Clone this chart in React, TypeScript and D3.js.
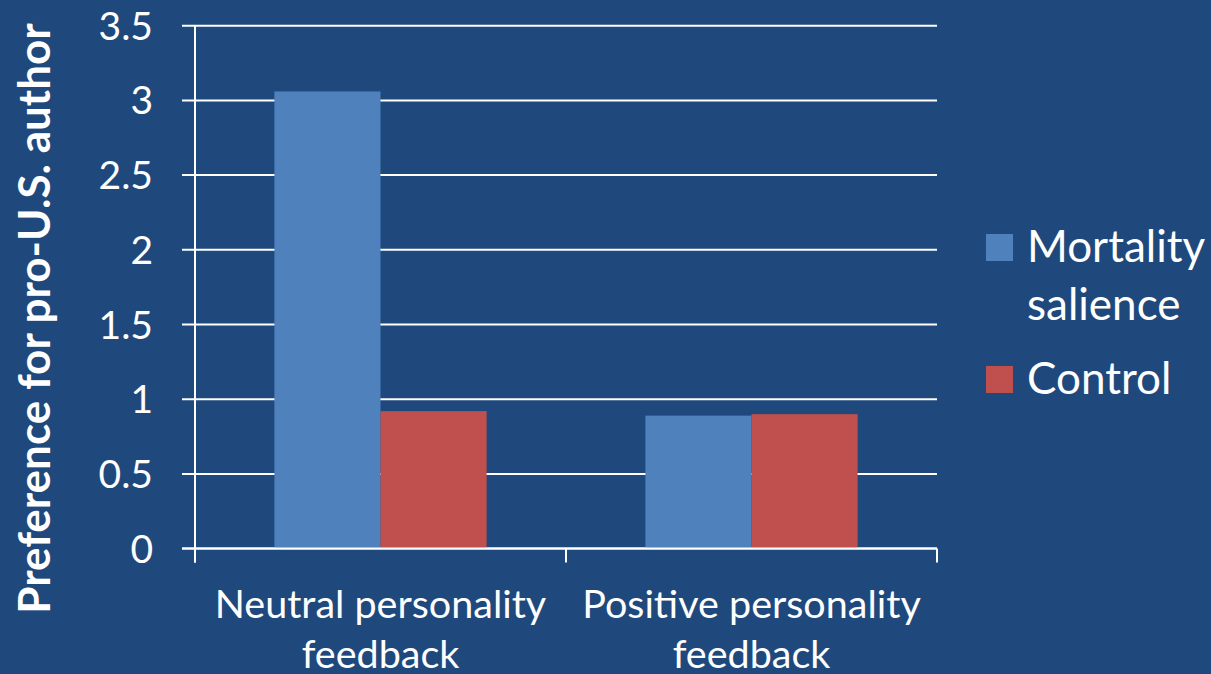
import React, { useEffect, useRef } from 'react';
import * as d3 from 'd3';

const categories = ['Neutral personality feedback', 'Positive personality feedback'];
const categoryLines = [
  ['Neutral personality', 'feedback'],
  ['Positive personality', 'feedback'],
];
const seriesNames = ['Mortality salience', 'Control'];
const mortality = [3.06, 0.89];
const control = [0.92, 0.9];
const yTicks = [0, 0.5, 1, 1.5, 2, 2.5, 3, 3.5];
const yTickLabels = ['0', '0.5', '1', '1.5', '2', '2.5', '3', '3.5'];

const BG = '#1F497D';
const COLORS = ['#4F81BD', '#C0504D'];
const FONT = 'Lato, "Open Sans", sans-serif';

const App: React.FC = () => {
  const ref = useRef<SVGSVGElement | null>(null);

  useEffect(() => {
    document.body.style.margin = '0';
    const svg = d3.select(ref.current);
    svg.selectAll('*').remove();

    const W = 1211;
    const H = 674;
    const left = 195;
    const right = 937;
    const top = 25.7;
    const bottom = 548.6;

    svg.append('rect').attr('width', W).attr('height', H).attr('fill', BG);

    const x = d3.scaleBand().domain(categories).range([left, right]).padding(0);
    const groupWidth = x.bandwidth() * 0.572;
    const inner = d3
      .scaleBand()
      .domain(seriesNames)
      .range([0, groupWidth])
      .padding(0);
    const y = d3.scaleLinear().domain([0, 3.5]).range([bottom, top]);

    // gridlines + y ticks
    svg
      .append('g')
      .selectAll('line')
      .data(yTicks)
      .enter()
      .append('line')
      .attr('x1', left - 13)
      .attr('x2', right)
      .attr('y1', (d) => y(d))
      .attr('y2', (d) => y(d))
      .attr('stroke', '#ffffff')
      .attr('stroke-width', 2);

    // bars
    const table = categories.map((c, i) => ({ c, vals: [mortality[i], control[i]] }));
    const groups = svg
      .selectAll('.grp')
      .data(table)
      .enter()
      .append('g')
      .attr('transform', (d) => `translate(${x(d.c)! + (x.bandwidth() - groupWidth) / 2},0)`);
    groups
      .selectAll('rect')
      .data((d) => d.vals.map((v, i) => ({ v, s: seriesNames[i], i })))
      .enter()
      .append('rect')
      .attr('x', (d) => inner(d.s)!)
      .attr('y', (d) => y(d.v))
      .attr('width', inner.bandwidth())
      .attr('height', (d) => bottom - y(d.v))
      .attr('fill', (d) => COLORS[d.i]);

    // axis lines
    svg
      .append('line')
      .attr('x1', left)
      .attr('x2', left)
      .attr('y1', top)
      .attr('y2', bottom + 14)
      .attr('stroke', '#ffffff')
      .attr('stroke-width', 2);
    svg
      .append('line')
      .attr('x1', left - 13)
      .attr('x2', right)
      .attr('y1', bottom)
      .attr('y2', bottom)
      .attr('stroke', '#ffffff')
      .attr('stroke-width', 2);
    const xTickPos = [left, ...categories.map((c) => x(c)! + x.bandwidth())];
    svg
      .selectAll('.xt')
      .data(xTickPos)
      .enter()
      .append('line')
      .attr('x1', (d) => d)
      .attr('x2', (d) => d)
      .attr('y1', bottom)
      .attr('y2', bottom + 14)
      .attr('stroke', '#ffffff')
      .attr('stroke-width', 2);

    // y tick labels
    svg
      .selectAll('.yl')
      .data(yTicks)
      .enter()
      .append('text')
      .attr('x', 153)
      .attr('y', (d) => y(d))
      .attr('dy', '0.36em')
      .attr('text-anchor', 'end')
      .attr('fill', '#ffffff')
      .attr('font-family', FONT)
      .attr('font-size', 39)
      .text((d, i) => yTickLabels[i]);

    // x labels
    categories.forEach((c, i) => {
      const t = svg
        .append('text')
        .attr('text-anchor', 'middle')
        .attr('fill', '#ffffff')
        .attr('font-family', FONT)
        .attr('font-size', 39.5);
      categoryLines[i].forEach((line, j) => {
        t.append('tspan')
          .attr('x', x(c)! + x.bandwidth() / 2)
          .attr('y', 618 + j * 50)
          .text(line);
      });
    });

    // y axis title
    svg
      .append('text')
      .attr('transform', `translate(50,318.5) rotate(-90)`)
      .attr('text-anchor', 'middle')
      .attr('fill', '#ffffff')
      .attr('font-family', FONT)
      .attr('font-weight', 'bold')
      .attr('font-size', 44)
      .text('Preference for pro-U.S. author');

    // legend
    const legend = [
      { lines: ['Mortality', 'salience'], y: 234 },
      { lines: ['Control'], y: 366 },
    ];
    legend.forEach((l, i) => {
      svg
        .append('rect')
        .attr('x', 986)
        .attr('y', l.y)
        .attr('width', 27)
        .attr('height', 27)
        .attr('fill', COLORS[i]);
      const t = svg
        .append('text')
        .attr('fill', '#ffffff')
        .attr('font-family', FONT)
        .attr('font-size', 44);
      l.lines.forEach((line, j) => {
        t.append('tspan')
          .attr('x', 1027)
          .attr('y', l.y + 28 + j * 58)
          .text(line);
      });
    });
  }, []);

  return <svg ref={ref} width={1211} height={674} style={{ display: 'block' }}></svg>;
};

export default App;
